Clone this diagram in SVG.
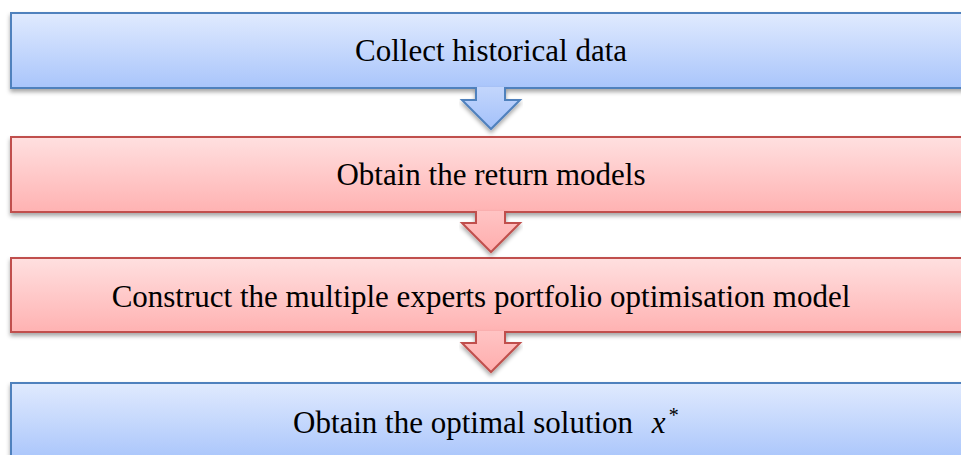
<svg xmlns="http://www.w3.org/2000/svg" width="961" height="455" viewBox="0 0 961 455">
<defs>
<linearGradient id="gb" x1="0" y1="0" x2="0" y2="1"><stop offset="0" stop-color="#e0eafe"/><stop offset="1" stop-color="#a9c5fb"/></linearGradient>
<linearGradient id="gr" x1="0" y1="0" x2="0" y2="1"><stop offset="0" stop-color="#ffe0e0"/><stop offset="1" stop-color="#ffb2b2"/></linearGradient>
<linearGradient id="gba" x1="0" y1="0" x2="0" y2="1"><stop offset="0" stop-color="#c3d6fc"/><stop offset="1" stop-color="#a3c1fa"/></linearGradient>
<linearGradient id="gra" x1="0" y1="0" x2="0" y2="1"><stop offset="0" stop-color="#ffc4c4"/><stop offset="1" stop-color="#ffadad"/></linearGradient>
<filter id="sh" x="-5%" y="-20%" width="110%" height="150%"><feDropShadow dx="0" dy="3" stdDeviation="2" flood-color="#000" flood-opacity="0.35"/></filter>
</defs>
<style>
.b{fill:url(#gb);stroke:#4f81bd;stroke-width:2}
.r{fill:url(#gr);stroke:#c0504d;stroke-width:2}
.ba{fill:url(#gba);stroke:#4f81bd;stroke-width:2}
.ra{fill:url(#gra);stroke:#c0504d;stroke-width:2}
.t{font-family:"Liberation Serif","Times New Roman",serif;font-size:31px;fill:#000;text-anchor:middle}
.m{font-family:"Liberation Serif","Times New Roman",serif;font-style:italic}
</style>
<g id="n1">
<rect class="b" filter="url(#sh)" x="11" y="13" width="960" height="75"/>
<text class="t" x="491" y="61">Collect historical data</text>
</g>
<g id="n2">
<rect class="r" filter="url(#sh)" x="11" y="137" width="960" height="75"/>
<text class="t" x="491" y="185">Obtain the return models</text>
</g>
<g id="n3">
<rect class="r" filter="url(#sh)" x="11" y="258" width="960" height="74"/>
<text class="t" x="481" y="307">Construct the multiple experts portfolio optimisation model</text>
</g>
<g id="n4">
<rect class="b" filter="url(#sh)" x="11" y="383" width="960" height="78"/>
<text class="t" x="293" y="433" style="text-anchor:start">Obtain the optimal solution <tspan class="m" dx="11">x</tspan><tspan font-size="20" dx="3" dy="-11">*</tspan></text>
</g>
<g id="connectors">
<path class="ba" filter="url(#sh)" d="M476,87 L476,100 L462,100 L491,129 L520,100 L505,100 L505,87"/>
<path class="ra" filter="url(#sh)" d="M476,211 L476,223 L462,223 L491,252 L520,223 L505,223 L505,211"/>
<path class="ra" filter="url(#sh)" d="M476,331 L476,343 L462,343 L491,372 L520,343 L505,343 L505,331"/>
</g>
</svg>
